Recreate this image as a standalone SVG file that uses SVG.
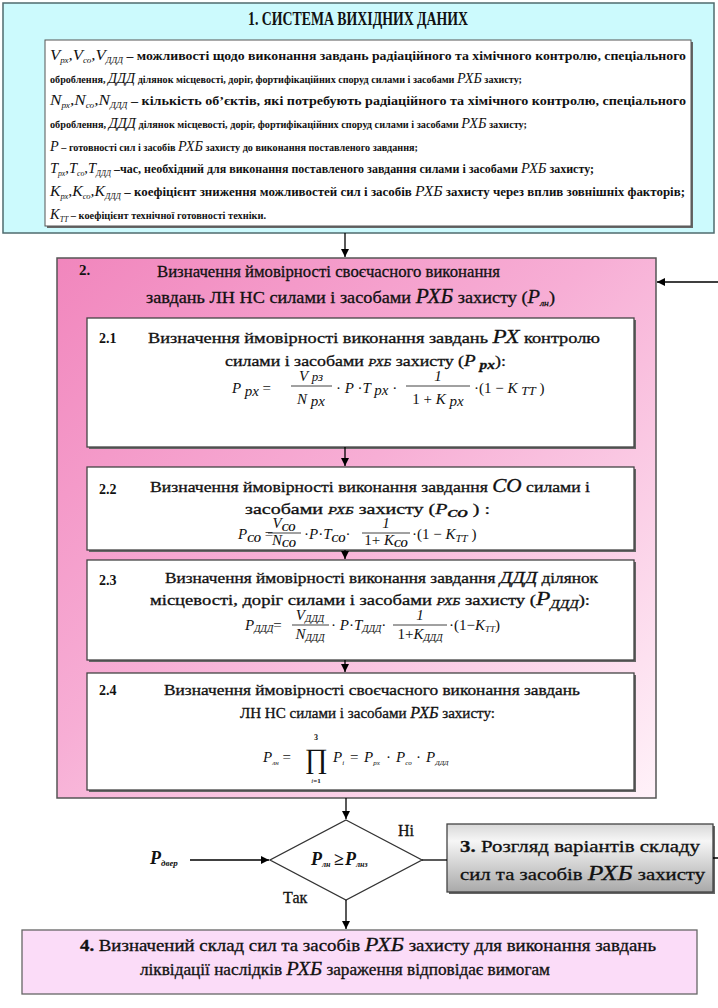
<svg xmlns="http://www.w3.org/2000/svg" width="718" height="1008" viewBox="0 0 718 1008" font-family="'Liberation Serif', serif">
<defs>
<linearGradient id="gPink" x1="0" y1="0" x2="1" y2="1">
<stop offset="0" stop-color="#f186bd"/>
<stop offset="0.45" stop-color="#f7aed5"/>
<stop offset="1" stop-color="#fff2f9"/>
</linearGradient>
<linearGradient id="gGray" x1="0" y1="0" x2="0" y2="1">
<stop offset="0" stop-color="#d8d8d8"/>
<stop offset="0.25" stop-color="#f6f6f6"/>
<stop offset="1" stop-color="#a9a9a9"/>
</linearGradient>
<marker id="arr" viewBox="0 0 10 10" refX="10" refY="5" markerUnits="userSpaceOnUse" markerWidth="8" markerHeight="8" orient="auto">
<path d="M0,0 L10,5 L0,10 z" fill="#000"/>
</marker>
<style>
text { fill: #111; font-family: 'Liberation Serif', serif; }
.ln { font-size: 11.5px; font-weight: bold; }
.ls { font-size: 10px; font-weight: bold; }
.vv { font-size: 14px; font-style: italic; font-weight: normal; }
.sb { font-size: 7.5px; font-style: italic; font-weight: normal; }
.it { font-style: italic; font-weight: normal; }
.bd { font-weight: bold; }
.up { font-style: normal; }
.hd { font-size: 17px; stroke: #111; stroke-width: 0.3; }
.bx { font-size: 15px; stroke: #111; stroke-width: 0.3; }
.fm { font-size: 15px; font-style: italic; }
.num { font-size: 14px; font-weight: bold; }
.tb { stroke: #111; stroke-width: 0.3; }
.box { stroke: #444; stroke-width: 1.3; }
.shd { fill: #666; }
.bar { stroke: #111; stroke-width: 0.8; }
.con { fill: none; stroke: #000; stroke-width: 1.3; }
</style>
</defs>

<g id="n1">
<rect x="3" y="3" width="711" height="230" fill="#ccfafd" stroke="#4f6b6e" stroke-width="1.5"/>
<text x="248" y="25" class="bd" font-size="18" textLength="220" lengthAdjust="spacingAndGlyphs">1. СИСТЕМА ВИХІДНИХ ДАНИХ</text>
<rect x="47" y="42" width="646" height="186" class="shd"/>
<rect x="45" y="40" width="646" height="186" fill="#fff" stroke="#555" stroke-width="1"/>
<text class="ln" x="50" y="60" textLength="636" lengthAdjust="spacingAndGlyphs"><tspan class="vv">V</tspan><tspan class="sb" dy="3">рх</tspan><tspan class="vv" dy="-3">,V</tspan><tspan class="sb" dy="3">со</tspan><tspan class="vv" dy="-3">,V</tspan><tspan class="sb" dy="3">ДДД</tspan><tspan dy="-3"> – можливості щодо виконання завдань радіаційного та хімічного контролю, спеціального</tspan></text>
<text class="ls" x="50" y="83" textLength="472" lengthAdjust="spacingAndGlyphs">оброблення, <tspan class="vv" font-size="13">ДДД</tspan> ділянок місцевості, доріг, фортифікаційних споруд силами і засобами <tspan class="vv" font-size="12">РХБ</tspan> захисту;</text>
<text class="ln" x="50" y="105" textLength="636" lengthAdjust="spacingAndGlyphs"><tspan class="vv">N</tspan><tspan class="sb" dy="3">рх</tspan><tspan class="vv" dy="-3">,N</tspan><tspan class="sb" dy="3">со</tspan><tspan class="vv" dy="-3">,N</tspan><tspan class="sb" dy="3">ДДД</tspan><tspan dy="-3"> – кількість об’єктів, які потребують радіаційного та хімічного контролю, спеціального</tspan></text>
<text class="ls" x="50" y="128" textLength="477" lengthAdjust="spacingAndGlyphs">оброблення, <tspan class="vv" font-size="13">ДДД</tspan> ділянок місцевості, доріг, фортифікаційних споруд силами і засобами <tspan class="vv" font-size="12">РХБ</tspan>  захисту;</text>
<text class="ls" x="50" y="151" textLength="368" lengthAdjust="spacingAndGlyphs"><tspan class="vv">P</tspan> – готовності сил і засобів <tspan class="vv" font-size="12">РХБ</tspan> захисту до виконання поставленого завдання;</text>
<text class="ln" x="50" y="173" textLength="544" lengthAdjust="spacingAndGlyphs"><tspan class="vv">T</tspan><tspan class="sb" dy="3">рх</tspan><tspan class="vv" dy="-3">,T</tspan><tspan class="sb" dy="3">со</tspan><tspan class="vv" dy="-3">,T</tspan><tspan class="sb" dy="3">ДДД</tspan><tspan dy="-3"> –час, необхідний для виконання поставленого завдання силами і засобами </tspan><tspan class="vv" font-size="12">РХБ</tspan> захисту;</text>
<text class="ln" x="50" y="196" textLength="635" lengthAdjust="spacingAndGlyphs"><tspan class="vv">K</tspan><tspan class="sb" dy="3">рх</tspan><tspan class="vv" dy="-3">,K</tspan><tspan class="sb" dy="3">со</tspan><tspan class="vv" dy="-3">,K</tspan><tspan class="sb" dy="3">ДДД</tspan><tspan dy="-3"> – коефіцієнт зниження можливостей сил і засобів </tspan><tspan class="vv">РХБ</tspan> захисту через вплив зовнішніх факторів;</text>
<text class="ls" x="50" y="219" textLength="216" lengthAdjust="spacingAndGlyphs"><tspan class="vv">K</tspan><tspan class="sb" dy="3">TT</tspan><tspan dy="-3">  – коефіцієнт технічної готовності техніки.</tspan></text>
</g>

<g id="n2">
<rect x="57" y="258" width="599" height="540" fill="url(#gPink)" stroke="#555" stroke-width="1.5"/>
<text x="79" y="275" class="bd" font-size="15">2.</text>
<text x="157" y="277" class="hd" textLength="343" lengthAdjust="spacingAndGlyphs">Визначення ймовірності своєчасного виконання</text>
<text x="146" y="303" class="hd" textLength="409" lengthAdjust="spacingAndGlyphs">завдань ЛН НС силами і засобами <tspan class="it" font-size="20">РХБ</tspan> захисту  (<tspan class="it" font-size="19">P</tspan><tspan class="it" font-size="9" dy="3">лн</tspan><tspan dy="-3">)</tspan></text>
</g>

<g id="n21">
<rect x="89" y="320" width="547" height="129" class="shd"/>
<rect x="87" y="318" width="547" height="129" fill="#fff" class="box"/>
<text x="99" y="343" class="num">2.1</text>
<text x="148" y="343" class="bx" textLength="452" lengthAdjust="spacingAndGlyphs">Визначення ймовірності виконання завдань <tspan class="it" font-size="19">РХ</tspan>  контролю</text>
<text x="225" y="366" class="bx" textLength="281" lengthAdjust="spacingAndGlyphs">силами і засобами <tspan class="it" font-size="11">РХБ</tspan> захисту (<tspan class="it" font-size="16">P</tspan><tspan class="it bd" font-size="13" dy="3"> px</tspan><tspan dy="-3">):</tspan></text>
<text x="232" y="393" class="fm" font-size="16">P<tspan font-size="15" dy="3"> px</tspan><tspan dy="-3" class="up"> =</tspan></text>
<text x="311" y="381" class="fm" text-anchor="middle">V <tspan font-size="13">рз</tspan></text>
<line x1="291" y1="386" x2="332" y2="386" class="bar"/>
<text x="311" y="404" class="fm" text-anchor="middle">N <tspan dy="2">px</tspan></text>
<text x="336" y="393" class="fm" font-size="16"><tspan class="up">·</tspan> P <tspan class="up">·</tspan>T <tspan font-size="15" dy="2">px</tspan><tspan dy="-2" class="up">  ·</tspan></text>
<text x="438" y="381" class="fm up" font-size="12" text-anchor="middle">1</text>
<line x1="406" y1="386" x2="470" y2="386" class="bar"/>
<text x="438" y="404" class="fm" text-anchor="middle"><tspan class="up">1 + </tspan>K <tspan dy="2">px</tspan></text>
<text x="474" y="393" class="fm" font-size="16"><tspan class="up">·(1 − </tspan>K <tspan font-size="13" dy="2">TT</tspan><tspan dy="-2" class="up">  )</tspan></text>
</g>

<g id="n22">
<rect x="89" y="469" width="547" height="83" class="shd"/>
<rect x="87" y="467" width="547" height="83" fill="#fff" class="box"/>
<text x="99" y="494" class="num">2.2</text>
<text x="150" y="492" class="bx" textLength="440" lengthAdjust="spacingAndGlyphs">Визначення ймовірності виконання завдання <tspan class="it" font-size="18">CO</tspan> силами і</text>
<text x="245" y="514" class="bx" textLength="245" lengthAdjust="spacingAndGlyphs">засобами <tspan class="it" font-size="11">РХБ</tspan>  захисту (<tspan class="it" font-size="15">P</tspan><tspan class="it bd" font-size="11" dy="3">CO</tspan><tspan dy="-3"> ) :</tspan></text>
<text x="238" y="539" class="fm" font-size="14">P<tspan class="bd" font-size="10" dy="3">CO</tspan><tspan dy="-3" class="up"> =</tspan></text>
<text x="284" y="528" class="fm" font-size="14" text-anchor="middle">V<tspan class="bd" font-size="10" dy="3">CO</tspan></text>
<line x1="268" y1="533" x2="301" y2="533" class="bar"/>
<text x="284" y="545" class="fm" font-size="14" text-anchor="middle">N<tspan class="bd" font-size="10" dy="2">CO</tspan></text>
<text x="304" y="539" class="fm" font-size="14"><tspan class="up">·</tspan>P<tspan class="up">·</tspan>T<tspan class="bd" font-size="10" dy="3">CO</tspan><tspan dy="-3" class="up">·</tspan></text>
<text x="386" y="528" class="fm up" font-size="12" text-anchor="middle">1</text>
<line x1="362" y1="533" x2="410" y2="533" class="bar"/>
<text x="386" y="545" class="fm" font-size="14" text-anchor="middle"><tspan class="up">1+ </tspan>K<tspan class="bd" font-size="10" dy="2">CO</tspan></text>
<text x="412" y="539" class="fm" font-size="15"><tspan class="up">·(1 − </tspan>K<tspan font-size="11" dy="3">TT</tspan><tspan dy="-3" class="up"> )</tspan></text>
</g>

<g id="n23">
<rect x="89" y="562" width="547" height="100" class="shd"/>
<rect x="87" y="560" width="547" height="100" fill="#fff" class="box"/>
<text x="99" y="585" class="num">2.3</text>
<text x="165" y="583" class="bx" textLength="433" lengthAdjust="spacingAndGlyphs">Визначення ймовірності виконання завдання  <tspan class="it" font-size="17">ДДД</tspan> ділянок</text>
<text x="150" y="605" class="bx" textLength="440" lengthAdjust="spacingAndGlyphs">місцевості, доріг силами і засобами <tspan class="it" font-size="11">РХБ</tspan>  захисту (<tspan class="it" font-size="19">P</tspan><tspan class="it" font-size="12" dy="3">ДДД</tspan><tspan dy="-3">):</tspan></text>
<text x="245" y="630" class="fm" font-size="12">P<tspan font-size="10" dy="2">ДДД</tspan><tspan dy="-2" class="up">=</tspan></text>
<text x="310" y="620" class="fm" font-size="12" text-anchor="middle">V<tspan font-size="10" dy="2">ДДД</tspan></text>
<line x1="292" y1="625" x2="329" y2="625" class="bar"/>
<text x="310" y="639" class="fm" font-size="12" text-anchor="middle">N<tspan font-size="10" dy="2">ДДД</tspan></text>
<text x="331" y="630" class="fm" font-size="12"><tspan class="up">·</tspan> P<tspan class="up">·</tspan>T<tspan font-size="10" dy="2">ДДД</tspan><tspan dy="-2" class="up">·</tspan></text>
<text x="420" y="620" class="fm up" font-size="11" text-anchor="middle">1</text>
<line x1="393" y1="625" x2="447" y2="625" class="bar"/>
<text x="420" y="639" class="fm" font-size="12" text-anchor="middle"><tspan class="up">1+</tspan>K<tspan font-size="10" dy="2">ДДД</tspan></text>
<text x="449" y="630" class="fm" font-size="12"><tspan class="up">·(1−</tspan>K<tspan font-size="9" dy="2">TT</tspan><tspan dy="-2" class="up">)</tspan></text>
</g>

<g id="n24">
<rect x="89" y="675" width="547" height="117" class="shd"/>
<rect x="87" y="673" width="547" height="117" fill="#fff" class="box"/>
<text x="99" y="695" class="num">2.4</text>
<text x="164" y="695" class="bx" textLength="416" lengthAdjust="spacingAndGlyphs">Визначення ймовірності своєчасного виконання завдань</text>
<text x="240" y="718" class="bx" textLength="255" lengthAdjust="spacingAndGlyphs">ЛН НС силами і засобами <tspan class="it" font-size="16">РХБ</tspan> захисту:</text>
<text x="263" y="762" class="fm" font-size="18">P<tspan font-size="7" dy="3">лн</tspan><tspan dy="-3" class="up"> = </tspan></text>
<text x="316" y="768" font-size="28" text-anchor="middle">∏</text>
<text x="316" y="740" font-size="8" class="bd" text-anchor="middle">3</text>
<text x="316" y="783" font-size="7" class="it" text-anchor="middle">i<tspan class="up bd">=1</tspan></text>
<text y="762" class="fm" font-size="18"><tspan x="333">P</tspan><tspan font-size="7" dy="3">i</tspan><tspan x="350" dy="-3" class="up">=</tspan><tspan x="364">P</tspan><tspan font-size="7" dy="3">px</tspan><tspan x="386" dy="-3" class="up">·</tspan><tspan x="396">P</tspan><tspan font-size="7" dy="3">co</tspan><tspan x="416" dy="-3" class="up">·</tspan><tspan x="426">P</tspan><tspan font-size="7" dy="3">ДДД</tspan></text>
</g>

<g id="nd">
<polygon points="346,820 422,860 346,900 270,860" fill="#fff" stroke="#333" stroke-width="1.3"/>
<text y="865" class="it bd" font-size="18"><tspan x="311">P</tspan><tspan font-size="8" dy="2">лн</tspan><tspan x="334" dy="-2" class="up">≥</tspan><tspan x="345">P</tspan><tspan font-size="8" dy="2">лнз</tspan></text>
</g>

<g id="np">
<text x="150" y="864" class="it bd" font-size="18">P<tspan font-size="9" dy="2">двер</tspan></text>
</g>

<g id="n3">
<rect x="449" y="826" width="266" height="68" class="shd"/>
<rect x="447" y="824" width="266" height="68" fill="url(#gGray)" stroke="#444" stroke-width="1.3"/>
<text x="460" y="852" font-size="17" class="tb" textLength="240" lengthAdjust="spacingAndGlyphs"><tspan class="bd">3.</tspan> Розгляд варіантів складу</text>
<text x="460" y="880" font-size="17" class="tb" textLength="245" lengthAdjust="spacingAndGlyphs">сил та засобів <tspan class="it" font-size="21">РХБ</tspan>   захисту</text>
</g>

<g id="n4">
<rect x="22" y="930" width="675" height="64" fill="#fbdcf8" stroke="#666" stroke-width="1.3"/>
<text x="80" y="951" font-size="16" class="tb" textLength="576" lengthAdjust="spacingAndGlyphs"><tspan class="bd">4.</tspan> Визначений склад сил та засобів <tspan class="it" font-size="19">РХБ</tspan>  захисту для виконання завдань</text>
<text x="140" y="975" font-size="16" class="tb" textLength="410" lengthAdjust="spacingAndGlyphs">ліквідації наслідків <tspan class="it" font-size="19">РХБ</tspan> зараження відповідає вимогам</text>
</g>

<g id="labels">
<text x="398" y="836" font-size="16" class="tb">Ні</text>
<text x="283" y="903" font-size="16" class="tb">Так</text>
</g>

<g id="connectors">
<path class="con" d="M345,233 V257" marker-end="url(#arr)"/>
<path class="con" d="M345,447 V466" marker-end="url(#arr)"/>
<path class="con" d="M345,550 V559" marker-end="url(#arr)"/>
<path class="con" d="M345,660 V672" marker-end="url(#arr)"/>
<path class="con" d="M346,798 V819" marker-end="url(#arr)"/>
<path class="con" d="M190,860 H269" marker-end="url(#arr)"/>
<path class="con" d="M422,860 H447"/>
<path class="con" d="M713,858 H724 V282 H657" marker-end="url(#arr)"/>
<path class="con" d="M346,900 V929" marker-end="url(#arr)"/>
</g>
</svg>
